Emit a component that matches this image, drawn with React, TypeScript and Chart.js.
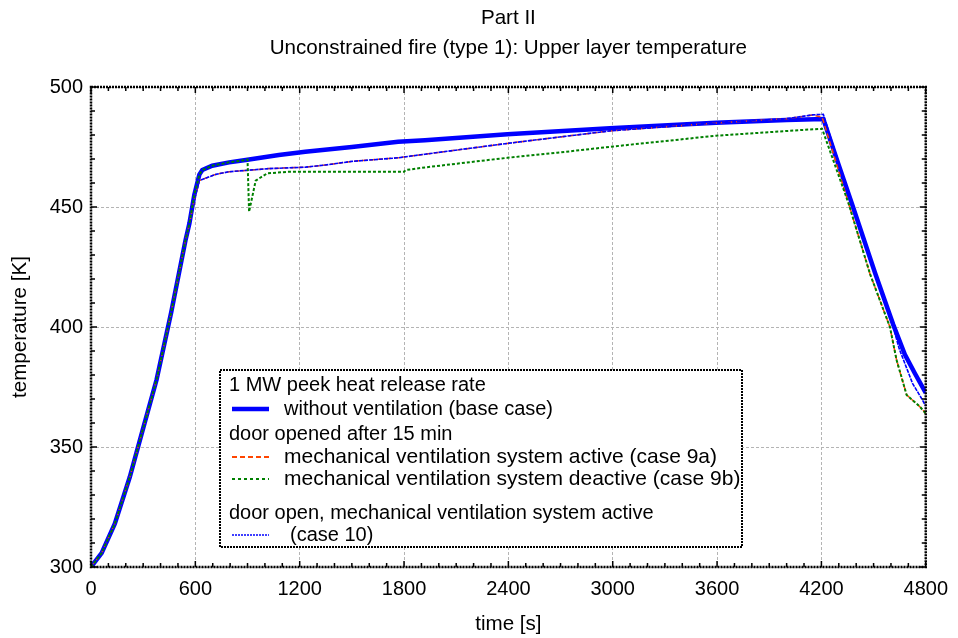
import { useEffect, useRef } from "react";
import { Chart, registerables } from "chart.js";

Chart.register(...registerables);

const FONT = "'Liberation Sans', Arial, sans-serif";

const titleMain = "Part II";
const titleSub = "Unconstrained fire (type 1): Upper layer temperature";
const xTitle = "time [s]";
const yTitle = "temperature [K]";

const xTickValues = [0, 600, 1200, 1800, 2400, 3000, 3600, 4200, 4800];
const yTickValues = [300, 350, 400, 450, 500];

// without ventilation (base case)
const baseTime = [0, 61, 137, 223, 297, 377, 461, 543, 566, 594, 623, 640, 697, 794, 890, 1080, 1232, 1500, 1766, 1920, 2394, 2983, 3594, 4000, 4211, 4290, 4375, 4509, 4613, 4680, 4737, 4800];
const baseTemp = [300, 305.8, 318, 337.5, 357, 378, 406, 436, 443.2, 455, 463.5, 465.4, 467.2, 468.6, 469.6, 471.7, 473, 475, 477.2, 477.8, 480.3, 482.8, 485.1, 486.3, 486.7, 469.5, 451.5, 422.4, 401, 388.5, 380.7, 372.5];

// mechanical ventilation system active (case 9a)
const case9aTime = [0, 61, 137, 223, 297, 377, 461, 543, 566, 594, 623, 680, 718, 794, 1023, 1233, 1347, 1500, 1766, 1920, 2394, 2983, 3594, 4000, 4150, 4204, 4356, 4480, 4594, 4632, 4690, 4766, 4800];
const case9aTemp = [300, 305.8, 318, 337.5, 357, 378, 406, 436, 443, 453, 461, 462.6, 463.6, 464.7, 466, 466.6, 467.5, 469, 470.5, 472, 476.5, 481.7, 485, 486.8, 488.3, 487.5, 451.5, 422, 400, 386.3, 371.7, 366.8, 364];

// mechanical ventilation system deactive (case 9b)
const case9bTime = [0, 61, 137, 223, 297, 377, 461, 543, 566, 594, 623, 640, 697, 794, 890, 900, 909, 947, 1013, 1137, 1800, 1810, 1920, 2394, 2680, 3000, 3594, 4090, 4204, 4356, 4480, 4594, 4632, 4690, 4766, 4800];
const case9bTemp = [300, 305.8, 318, 337.5, 357, 378, 406, 436, 443.2, 455, 463.5, 465.4, 467.2, 468.6, 469.6, 469.8, 448, 461, 464, 464.7, 464.7, 465.4, 466.5, 470.5, 472.6, 475.2, 479.7, 482.1, 482.6, 451.5, 422, 400, 386.3, 371.7, 366.8, 364];

// door open, mechanical ventilation system active (case 10)
const case10Time = [0, 61, 137, 223, 297, 377, 461, 543, 566, 594, 623, 680, 718, 794, 1023, 1233, 1347, 1500, 1766, 1920, 2394, 2983, 3594, 4000, 4150, 4211, 4290, 4375, 4509, 4613, 4647, 4724, 4781, 4800];
const case10Temp = [300, 305.8, 318, 337.5, 357, 378, 406, 436, 443, 453, 461, 462.6, 463.6, 464.7, 466, 466.6, 467.5, 469, 470.5, 472, 476.5, 481.7, 485, 486.8, 488.4, 488.6, 470.5, 452, 423, 400, 391, 376.5, 369.6, 367];

const legendHeader1 = "1 MW peek heat release rate";
const legendBase = "without ventilation (base case)";
const legendHeader2 = "door opened after 15 min";
const legend9a = "mechanical ventilation system active (case 9a)";
const legend9b = "mechanical ventilation system deactive (case 9b)";
const legendHeader3 = "door open, mechanical ventilation system active";
const legend10 = "(case 10)";

const toPoints = (t: number[], v: number[]) => t.map((x, i) => ({ x, y: v[i] }));

const decorPlugin = {
  id: "decor",
  afterDatasetsDraw(chart: any) {
    const { ctx, chartArea: a, scales } = chart;
    const xs = scales.x;
    const ys = scales.y;
    ctx.save();
    // frame
    ctx.strokeStyle = "#000";
    ctx.lineWidth = 2.5;
    ctx.setLineDash([2, 1]);
    ctx.strokeRect(a.left, a.top, a.right - a.left, a.bottom - a.top);
    ctx.setLineDash([]);
    ctx.lineWidth = 1.5;
    for (let t = 0; t <= 4800; t += 100) {
      const px = xs.getPixelForValue(t);
      const len = t % 600 === 0 ? 6 : 4;
      ctx.beginPath();
      ctx.moveTo(px, a.bottom);
      ctx.lineTo(px, a.bottom - len);
      ctx.moveTo(px, a.top);
      ctx.lineTo(px, a.top + len);
      ctx.stroke();
    }
    for (let v = 300; v <= 500; v += 10) {
      const py = ys.getPixelForValue(v);
      const len = v % 50 === 0 ? 6 : 4;
      ctx.beginPath();
      ctx.moveTo(a.left, py);
      ctx.lineTo(a.left + len, py);
      ctx.moveTo(a.right, py);
      ctx.lineTo(a.right - len, py);
      ctx.stroke();
    }

    // legend box
    const bx = 220, by = 370, bw = 522, bh = 177;
    ctx.fillStyle = "#fff";
    ctx.fillRect(bx, by, bw, bh);
    ctx.strokeStyle = "#000";
    ctx.lineWidth = 2;
    ctx.setLineDash([2, 1]);
    ctx.strokeRect(bx, by, bw, bh);
    ctx.setLineDash([]);

    ctx.fillStyle = "#000";
    ctx.font = `20px ${FONT}`;
    ctx.textBaseline = "middle";
    ctx.textAlign = "left";
    ctx.fillText(legendHeader1, 229, 385);
    ctx.fillText(legendBase, 284, 409);
    ctx.fillText(legendHeader2, 229, 434);
    ctx.font = `21px ${FONT}`;
    ctx.fillText(legend9a, 284, 457);
    ctx.fillText(legend9b, 284, 479);
    ctx.font = `20px ${FONT}`;
    ctx.fillText(legendHeader3, 229, 513);
    ctx.fillText(legend10, 290, 535);

    const sample = (y: number, color: string, w: number, dash: number[]) => {
      ctx.strokeStyle = color;
      ctx.lineWidth = w;
      ctx.setLineDash(dash);
      ctx.beginPath();
      ctx.moveTo(232, y);
      ctx.lineTo(269, y);
      ctx.stroke();
      ctx.setLineDash([]);
    };
    sample(409, "#0000ff", 4.5, []);
    sample(457, "#ff4500", 2, [5, 3]);
    sample(479, "#008000", 2, [3, 3]);
    sample(535, "#0000ff", 1.5, [2, 1]);
    ctx.restore();
  },
  afterDraw(chart: any) {
    const { ctx, chartArea: a } = chart;
    const cx = (a.left + a.right) / 2;
    ctx.save();
    ctx.fillStyle = "#000";
    ctx.font = `20.6px ${FONT}`;
    ctx.textAlign = "center";
    ctx.textBaseline = "middle";
    ctx.fillText(titleMain, cx, 18);
    ctx.fillText(titleSub, cx, 48);
    ctx.fillText(xTitle, cx, 624);
    ctx.translate(20, (a.top + a.bottom) / 2);
    ctx.rotate(-Math.PI / 2);
    ctx.fillText(yTitle, 0, 0);
    ctx.restore();
  },
};

export default function App() {
  const ref = useRef<HTMLCanvasElement | null>(null);
  useEffect(() => {
    if (!ref.current) return;
    const chart = new Chart(ref.current, {
      type: "line",
      data: {
        datasets: [
          {
            label: legend9b,
            data: toPoints(case9bTime, case9bTemp),
            borderColor: "#008000",
            borderWidth: 2,
            borderDash: [3, 2],
            pointRadius: 0,
            order: 0,
          },
          {
            label: legend10,
            data: toPoints(case10Time, case10Temp),
            borderColor: "#0000ff",
            borderWidth: 1.6,
            borderDash: [4, 1],
            pointRadius: 0,
            order: 1,
          },
          {
            label: legend9a,
            data: toPoints(case9aTime, case9aTemp),
            borderColor: "#ff4500",
            borderWidth: 1.5,
            borderDash: [5, 3],
            pointRadius: 0,
            order: 2,
          },
          {
            label: legendBase,
            data: toPoints(baseTime, baseTemp),
            borderColor: "#0000ff",
            borderWidth: 4.5,
            pointRadius: 0,
            order: 3,
          },
        ],
      },
      options: {
        responsive: false,
        animation: false,
        events: [],
        layout: { padding: { top: 87, right: 27, left: 0, bottom: 0 } },
        plugins: { legend: { display: false }, title: { display: false }, tooltip: { enabled: false } },
        scales: {
          x: {
            type: "linear",
            min: 0,
            max: 4800,
            afterFit: (s: any) => { s.height = 71; },
            afterBuildTicks: (s: any) => { s.ticks = xTickValues.map((value) => ({ value })); },
            ticks: {
              color: "#000",
              font: { family: FONT, size: 20 },
              padding: 10,
              maxRotation: 0,
              autoSkip: false,
              callback: (v: any) => String(v),
            },
            grid: { color: "#b4b4b4", lineWidth: 1, drawTicks: false },
            border: { display: false, dash: [3, 2] },
          },
          y: {
            type: "linear",
            min: 300,
            max: 500,
            afterFit: (s: any) => { s.width = 91; },
            afterBuildTicks: (s: any) => { s.ticks = yTickValues.map((value) => ({ value })); },
            ticks: { color: "#000", font: { family: FONT, size: 20 }, padding: 8, callback: (v: any) => String(v) },
            grid: { color: "#b4b4b4", lineWidth: 1, drawTicks: false },
            border: { display: false, dash: [3, 2] },
          },
        },
      },
      plugins: [decorPlugin],
    } as any);
    return () => chart.destroy();
  }, []);
  return (
    <div style={{ position: "fixed", left: 0, top: 0, width: 958, height: 638, background: "#fff" }}>
      <canvas ref={ref} width={958} height={638} style={{ display: "block" }} />
    </div>
  );
}
